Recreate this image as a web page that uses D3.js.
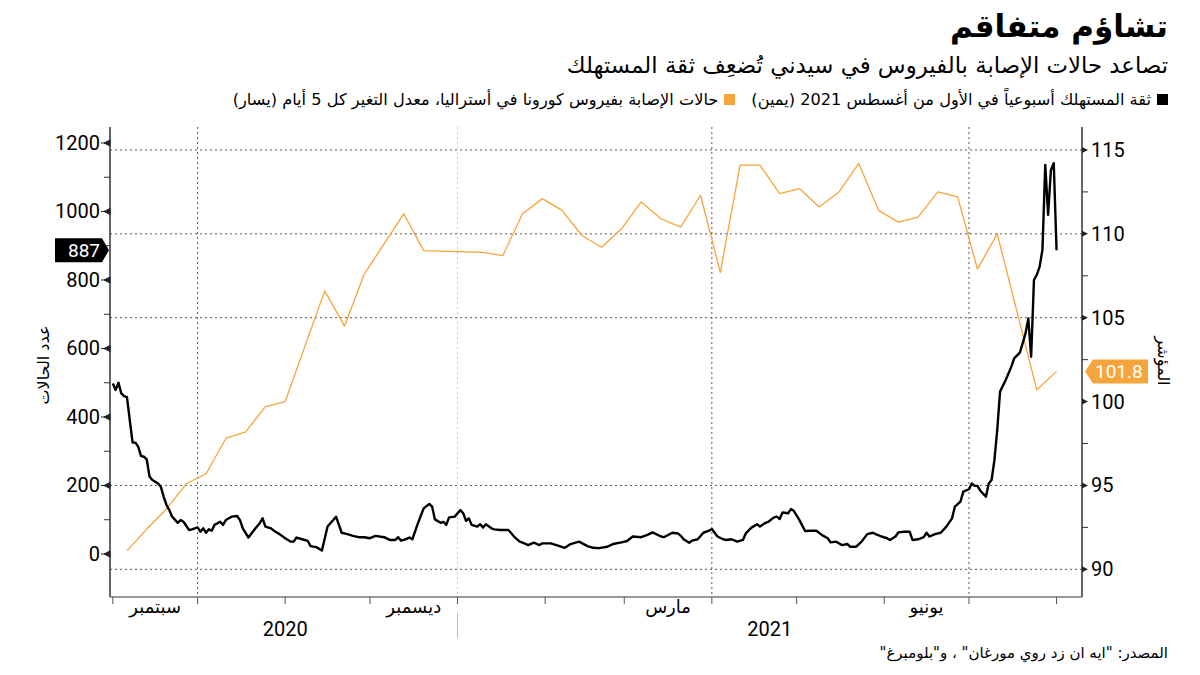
<!DOCTYPE html>
<html lang="ar">
<head>
<meta charset="utf-8">
<script src="https://cdn.jsdelivr.net/npm/d3@7"></script>
<style>
  html, body { margin: 0; padding: 0; background: #fff; }
  #wrap { position: relative; width: 1200px; height: 675px; overflow: hidden; background: #fff; }
  .ar { font-family: "DejaVu Sans", sans-serif; direction: rtl; position: absolute; right: 32px; white-space: nowrap; color: #000; }
  #title { top: 8px; font-size: 31px; font-weight: bold; }
  #subtitle { top: 52px; font-size: 22.8px; }
  #legend { top: 90px; font-size: 16.2px; display: flex; align-items: center; }
  #legend .sw { width: 11px; height: 11px; display: inline-block; margin-left: 6px; }
  #source { top: 644px; font-size: 15px; }
  svg { position: absolute; left: 0; top: 0; }
</style>
</head>
<body>
<div id="wrap">
  <div id="title" class="ar">تشاؤم متفاقم</div>
  <div id="subtitle" class="ar">تصاعد حالات الإصابة بالفيروس في سيدني تُضعِف ثقة المستهلك</div>
  <div id="legend" class="ar"></div>
  <div id="source" class="ar">المصدر: "ايه ان زد روي مورغان" ، و"بلومبرغ"</div>
</div>
<script>
// ---------------- DATA ----------------
// Weekly consumer confidence (right axis)
const confidenceDates = ["2020-09-06","2020-09-13","2020-09-20","2020-09-27","2020-10-04","2020-10-11","2020-10-18","2020-10-25","2020-11-01","2020-11-15","2020-11-22","2020-11-29","2020-12-13","2020-12-20","2021-01-10","2021-01-17","2021-01-24","2021-01-31","2021-02-07","2021-02-14","2021-02-21","2021-02-28","2021-03-07","2021-03-14","2021-03-21","2021-03-28","2021-04-04","2021-04-11","2021-04-18","2021-04-25","2021-05-02","2021-05-09","2021-05-16","2021-05-23","2021-05-30","2021-06-06","2021-06-13","2021-06-20","2021-06-27","2021-07-04","2021-07-11","2021-07-25","2021-08-01"];
const confidenceValues = [91.1,92.4,93.6,95.1,95.7,97.8,98.2,99.7,100.0,106.6,104.5,107.6,111.2,109.0,108.9,108.7,111.2,112.1,111.4,109.9,109.2,110.3,111.9,110.9,110.4,112.3,107.7,114.1,114.1,112.4,112.7,111.6,112.5,114.2,111.4,110.7,111.0,112.5,112.2,107.9,110.0,100.7,101.8];

// Covid cases (left axis): days since 2020-08-31 and values
const caseBaseDate = "2020-08-31";
const caseDays = [1,2,3,4,5,6,7,8,9,10,11,12,13,14,15,16,17,18,19,20,21,22,24,25,26,28,29,31,32,33,34,35,36,37,39,40,41,43,45,46,47,49,51,52,53,54,55,57,58,60,62,64,65,66,68,70,71,73,75,77,79,80,82,84,86,88,90,92,94,97,99,101,102,103,104,106,107,109,111,113,114,115,117,118,119,120,122,124,125,126,127,128,130,131,132,133,135,136,138,140,141,143,145,146,148,150,152,153,156,158,161,163,166,169,171,173,176,178,181,183,185,188,190,192,195,196,199,201,202,203,205,206,208,210,212,213,215,217,218,220,222,224,225,227,229,230,232,233,235,236,237,238,240,241,242,244,246,248,250,252,254,255,257,259,261,262,264,266,268,270,271,273,275,276,278,279,281,283,284,286,288,289,290,292,294,296,298,299,301,302,304,305,306,307,308,310,311,312,313,314,315,317,319,320,322,323,324,325,326,327,328,329,330,331,332,333,334,335];
const caseValues = [498,479,500,469,461,458,391,325,325,313,286,284,276,226,216,211,206,196,167,143,128,109,91,99,94,70,72,78,65,75,62,72,68,85,94,85,99,109,111,99,75,48,70,80,90,104,80,75,68,58,46,36,36,48,43,38,23,20,10,80,99,109,62,58,53,49,49,46,53,49,41,41,49,39,41,48,43,90,133,146,138,101,91,94,85,107,109,128,119,97,104,85,80,87,77,87,75,72,70,70,70,51,36,33,26,33,26,31,31,26,18,29,36,23,18,17,21,29,34,38,51,49,55,63,51,49,62,60,53,43,33,39,43,62,68,73,51,43,41,43,36,41,60,77,87,80,91,94,107,109,102,121,119,131,126,99,67,68,68,55,46,34,36,26,29,21,21,36,58,62,58,51,46,41,51,63,65,65,41,43,49,62,51,58,62,80,104,138,153,182,189,206,199,199,185,167,206,216,274,362,474,508,547,571,588,615,644,688,576,800,815,839,888,1136,990,1121,1141,887];

const leftTicks = [0,200,400,600,800,1000,1200];
const leftMinor = [100,300,500,700,900,1100];
const rightTicks = [90,95,100,105,110,115];
const rightMinor = [92.5,97.5,102.5,107.5,112.5];
const gridValues = [90,95,105,110,115];
const quarterLines = ["2020-10-01","2021-01-01","2021-04-01","2021-07-01"];
const monthLabelDates = ["2020-09-01","2020-12-01","2021-03-01","2021-06-01"];
const monthLabels = ["سبتمبر","ديسمبر","مارس","يونيو"];
const yearLabels = ["2020","2021"];
const legendItems = [
  {text: "ثقة المستهلك أسبوعياً في الأول من أغسطس 2021 (يمين)", color: "#000"},
  {text: "حالات الإصابة بفيروس كورونا في أستراليا، معدل التغير كل 5 أيام (يسار)", color: "#f6a53c"}
];
const leftTitle = "عدد الحالات";
const rightTitle = "المؤشر";
const lastCase = 887, lastConf = 101.8;

// ---------------- CHART ----------------
const parse = d3.utcParse("%Y-%m-%d");
const ORANGE = "#f6a53c";
const W = 1200, H = 675;
const X0 = 110, X1 = 1082, YT = 127, YB = 597;

const x = d3.scaleUtc().domain([parse("2020-08-31"), parse("2021-08-10")]).range([X0, X1]);
const yL = d3.scaleLinear().domain([-125.6, 1246.7]).range([YB, YT]);
const yR = d3.scaleLinear().domain([88.35, 116.37]).range([YB, YT]);

const lg = d3.select("#legend");
legendItems.forEach((it, i) => {
  const s = lg.append("span").style("display","inline-flex").style("align-items","center")
    .style("margin-left", i === 0 ? "16px" : "0");
  s.append("span").attr("class","sw").style("background", it.color);
  s.append("span").text(it.text);
});

const svg = d3.select("#wrap").append("svg").attr("width", W).attr("height", H);

// horizontal grid
svg.append("g").selectAll("line").data(gridValues).join("line")
  .attr("x1", X0).attr("x2", X1).attr("y1", d => yR(d)).attr("y2", d => yR(d))
  .attr("stroke", "#555").attr("stroke-width", 1).attr("stroke-dasharray", "2,3");

// vertical quarter lines
svg.append("g").selectAll("line").data(quarterLines).join("line")
  .attr("x1", d => x(parse(d))).attr("x2", d => x(parse(d)))
  .attr("y1", YT).attr("y2", YB)
  .attr("stroke", d => d === "2021-01-01" ? "#c8c8c8" : "#555")
  .attr("stroke-width", 1).attr("stroke-dasharray", "2,3");

// orange line
const confData = confidenceDates.map((d, i) => ({date: parse(d), v: confidenceValues[i]}));
svg.append("path").datum(confData)
  .attr("fill", "none").attr("stroke", ORANGE).attr("stroke-width", 1.3).attr("stroke-linejoin","round")
  .attr("d", d3.line().x(d => x(d.date)).y(d => yR(d.v)));

// black line
const base = parse(caseBaseDate);
const caseData = caseDays.map((d, i) => ({date: d3.utcDay.offset(base, d), v: caseValues[i]}));
svg.append("path").datum(caseData)
  .attr("fill", "none").attr("stroke", "#000").attr("stroke-width", 2.4).attr("stroke-linejoin","round")
  .attr("d", d3.line().x(d => x(d.date)).y(d => yL(d.v)));

// axes lines
svg.append("line").attr("x1", X0).attr("x2", X0).attr("y1", YT).attr("y2", YB).attr("stroke", "#333").attr("stroke-width", 1.5);
svg.append("line").attr("x1", X1).attr("x2", X1).attr("y1", YT).attr("y2", YB).attr("stroke", "#333").attr("stroke-width", 1.5);
svg.append("line").attr("x1", X0).attr("x2", X1).attr("y1", YB).attr("y2", YB).attr("stroke", "#777").attr("stroke-width", 1.5);

// left ticks
const lt = svg.append("g");
lt.selectAll("path.maj").data(leftTicks).join("path").attr("class","maj")
  .attr("d", d => `M${X0},${yL(d)-3}L${X0-6},${yL(d)}L${X0},${yL(d)+3}Z M${X0-9},${yL(d)}L${X0},${yL(d)}`)
  .attr("fill", "#222").attr("stroke", "#222").attr("stroke-width", 1);
lt.selectAll("line.min").data(leftMinor).join("line").attr("class","min")
  .attr("x1", X0 - 6).attr("x2", X0).attr("y1", d => yL(d)).attr("y2", d => yL(d))
  .attr("stroke", "#333").attr("stroke-width", 1);
lt.selectAll("text").data(leftTicks).join("text")
  .attr("x", X0 - 10).attr("y", d => yL(d)).attr("dy", "0.35em").attr("text-anchor", "end")
  .attr("font-family", "Roboto, sans-serif").attr("font-size", 20).attr("fill", "#000")
  .text(d => d);

// right ticks
const rt = svg.append("g");
rt.selectAll("path.maj").data(rightTicks).join("path").attr("class","maj")
  .attr("d", d => `M${X1},${yR(d)-3}L${X1+6},${yR(d)}L${X1},${yR(d)+3}Z`)
  .attr("fill", "#222");
rt.selectAll("line.min").data(rightMinor).join("line").attr("class","min")
  .attr("x1", X1).attr("x2", X1 + 6).attr("y1", d => yR(d)).attr("y2", d => yR(d))
  .attr("stroke", "#333").attr("stroke-width", 1);
rt.selectAll("text").data(rightTicks).join("text")
  .attr("x", X1 + 9).attr("y", d => yR(d)).attr("dy", "0.35em").attr("text-anchor", "start")
  .attr("font-family", "Roboto, sans-serif").attr("font-size", 20).attr("fill", "#000")
  .text(d => d);

// bottom month ticks
const months = d3.utcMonth.range(parse("2020-09-01"), parse("2021-08-02"));
svg.append("g").selectAll("line").data(months).join("line")
  .attr("x1", d => x(d)).attr("x2", d => x(d)).attr("y1", YB).attr("y2", YB + 7)
  .attr("stroke", "#555").attr("stroke-width", 1);

// month labels
svg.append("g").selectAll("text").data(monthLabelDates).join("text")
  .attr("x", d => { const a = parse(d); return (x(a) + x(d3.utcMonth.offset(a, 1))) / 2; })
  .attr("y", 613).attr("text-anchor", "middle")
  .attr("font-family", "DejaVu Sans, sans-serif").attr("font-size", 18).attr("fill", "#000")
  .text((d, i) => monthLabels[i]);

// year labels
const yearSpans = [[parse("2020-09-01"), parse("2021-01-01")], [parse("2021-01-01"), x.domain()[1]]];
svg.append("g").selectAll("text").data(yearSpans).join("text")
  .attr("x", d => (x(d[0]) + x(d[1])) / 2).attr("y", 636).attr("text-anchor", "middle")
  .attr("font-family", "Roboto, sans-serif").attr("font-size", 20).attr("fill", "#000")
  .text((d, i) => yearLabels[i]);
svg.append("line").attr("x1", x(parse("2021-01-01"))).attr("x2", x(parse("2021-01-01")))
  .attr("y1", 613).attr("y2", 638).attr("stroke", "#bbb").attr("stroke-width", 1);

// axis titles
svg.append("text").attr("transform", `translate(43,${365}) rotate(-90)`)
  .attr("text-anchor", "middle").attr("dy", "0.35em")
  .attr("font-family", "DejaVu Sans, sans-serif").attr("font-size", 16).attr("fill", "#000")
  .text(leftTitle);
svg.append("text").attr("transform", `translate(1164,${361}) rotate(90)`)
  .attr("text-anchor", "middle").attr("dy", "0.35em")
  .attr("font-family", "DejaVu Sans, sans-serif").attr("font-size", 16).attr("fill", "#000")
  .text(rightTitle);

// last-value labels
const yc = yL(lastCase);
svg.append("path").attr("d", `M55,${yc-12}L102,${yc-12}L109,${yc}L102,${yc+12}L55,${yc+12}Z`).attr("fill", "#000");
svg.append("text").attr("x", 100).attr("y", yc).attr("dy", "0.36em").attr("text-anchor", "end")
  .attr("font-family", "Roboto, sans-serif").attr("font-size", 19).attr("fill", "#fff").text(lastCase);
const yo = yR(lastConf);
svg.append("path").attr("d", `M1085,${yo}L1093,${yo-12}L1148,${yo-12}L1148,${yo+12}L1093,${yo+12}Z`).attr("fill", ORANGE);
svg.append("text").attr("x", 1095).attr("y", yo).attr("dy", "0.36em").attr("text-anchor", "start")
  .attr("font-family", "Roboto, sans-serif").attr("font-size", 19).attr("fill", "#fff").text(lastConf);
</script>
</body>
</html>
